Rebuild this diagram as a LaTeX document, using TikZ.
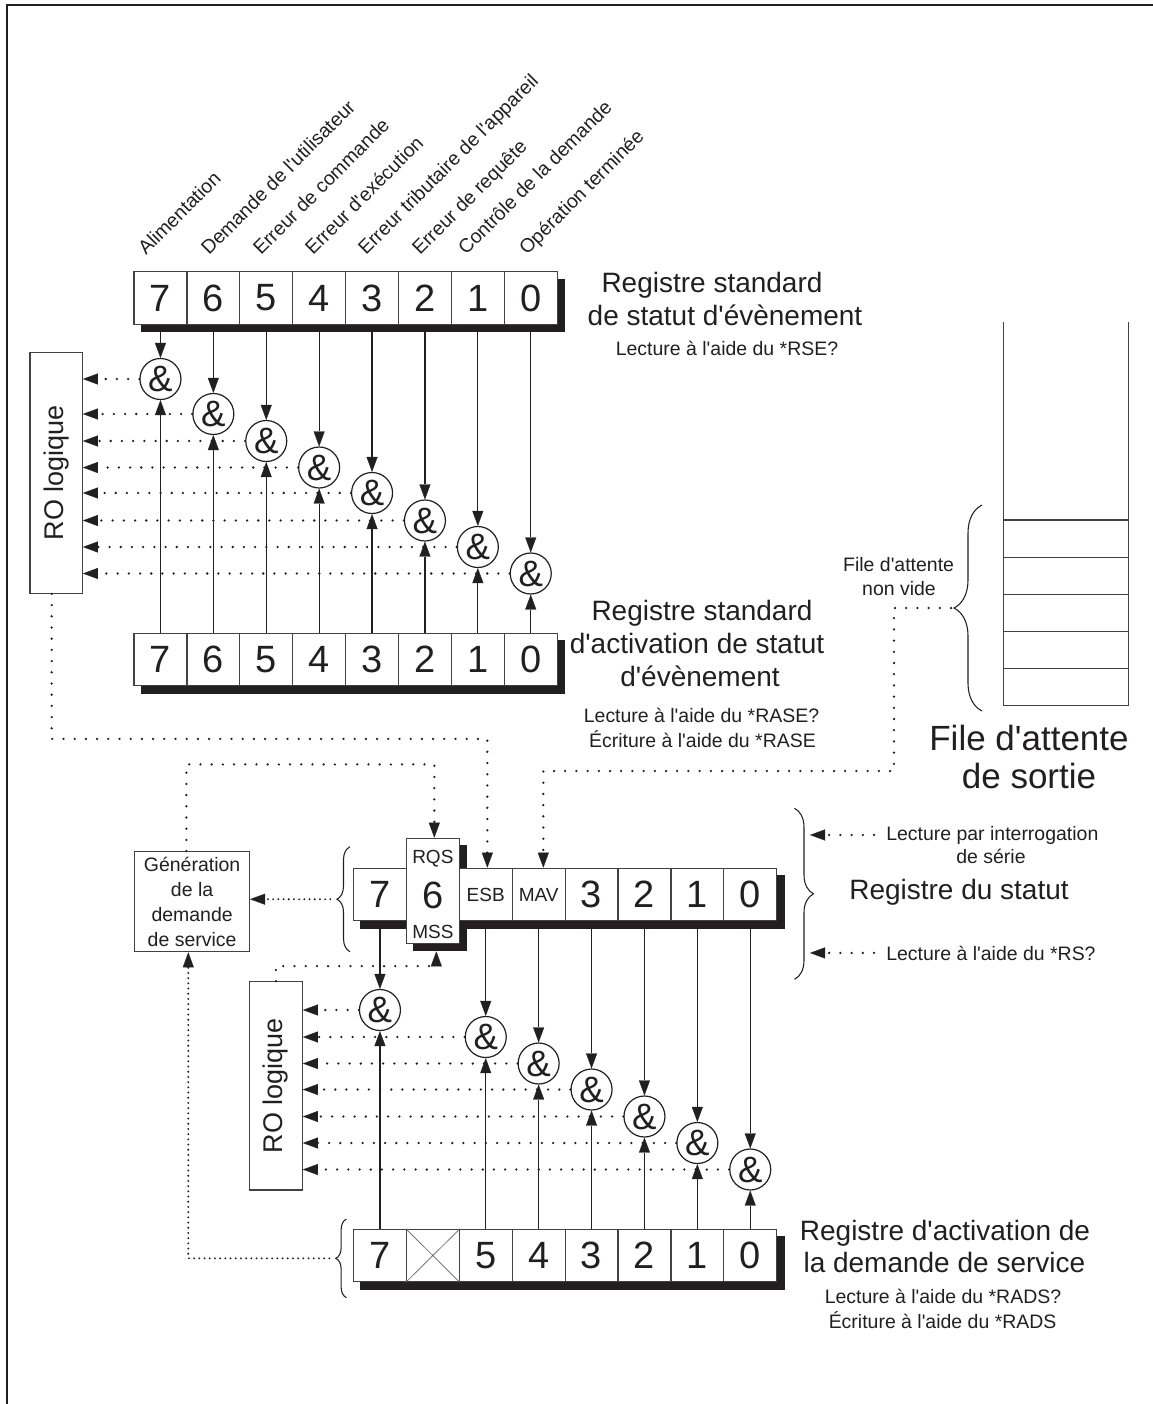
\documentclass[tikz,border=0pt]{standalone}
\usepackage{fontspec}
\setmainfont{Liberation Sans}[Ligatures=TeXOff]
\usetikzlibrary{arrows.meta,decorations.pathreplacing,calc}
\definecolor{ink}{HTML}{231F20}
\pgfdeclarelayer{shadowlayer}
\pgfsetlayers{shadowlayer,main}

% font sizes (one drawing unit = 0.75pt)
\newcommand\fBig{\fontsize{21}{24.75}\selectfont}
\newcommand\fSmall{\fontsize{14.6}{18.75}\selectfont}
\newcommand\fDigit{\fontsize{28.5}{30}\selectfont}
\newcommand\fAmp{\fontsize{27.5}{30}\selectfont}
\newcommand\fTag{\fontsize{14.25}{16}\selectfont}
\newcommand\fRO{\fontsize{20.25}{24}\selectfont}
\newcommand\fQueue{\fontsize{26.25}{28.5}\selectfont}

\tikzset{
  conn/.style={draw=ink, line width=0.95pt},
  headed/.style={-{Triangle[length=11.25pt,width=8.25pt,line width=0.2pt]}},
  sparse/.style={draw=ink, line width=1.9pt, line cap=round, dash pattern=on 0pt off 8.4pt},
  dense/.style={draw=ink, line width=1.6pt, line cap=round, dash pattern=on 0pt off 3.9pt},
  cell/.style={draw=ink!85, line width=0.9pt, fill=white, minimum width=39.675pt,
    minimum height=39.375pt, inner sep=0pt, font=\fDigit, text=ink},
  tallcell/.style={cell, minimum height=78.75pt},
  gate/.style={circle, draw=ink, line width=0.9pt, fill=white, minimum size=30.75pt,
    inner sep=0pt, font=\fAmp, text=ink},
  txt/.style={inner sep=0pt, text=ink},
  framebox/.style={draw=ink!85, line width=0.9pt, fill=white},
  bracket/.style={draw=ink, line width=0.8pt, decorate},
}

\begin{document}
\begin{tikzpicture}[x=0.75pt,y=-0.75pt]
\useasboundingbox (0,0) rectangle (1153,1404);

% page frame (top and left edges)
\draw[ink, line width=1.5pt] (6.9,1404) -- (6.9,5) -- (1153,5);

% ---------- standard event status register ----------
\foreach \b [count=\i from 0] in {7,6,5,4,3,2,1,0}
  \node[cell] (t\b) at ({134+52.9*(\i+0.5)},297.95) {\b};
% ---------- standard event status enable register ----------
\foreach \b [count=\i from 0] in {7,6,5,4,3,2,1,0}
  \node[cell] (e\b) at ({134+52.9*(\i+0.5)},659.55) {\b};

% bit labels
\foreach \x/\lab in {146/Alimentation, 209/Demande de l'utilisateur, 261/Erreur de commande,
    313/Erreur d'exécution, 366/Erreur tributaire de l'appareil, 420/Erreur de requête,
    466/Contrôle de la demande, 527/Opération terminée}
  \node[txt, font=\fSmall, rotate=45, anchor=base west] (lab\x) at (\x,256) {\lab};

% upper OR box
\node[framebox, minimum width=39.3pt, minimum height=180.75pt] (ro1) at (56.1,472.8) {};
\node[txt, font=\fRO, rotate=90] (ro1t) at (ro1.center) {RO logique};

% upper AND gates
\foreach \b/\y [count=\i from 0] in {7/379,6/414,5/441,4/467.5,3/493,2/520.5,1/547,0/573.5}
  \node[gate] (g\b) at ({134+52.9*(\i+0.5)},\y) {\&};
\foreach \b in {7,6,5,4,3,2,1,0} {
  \draw[conn,headed] (t\b.south) -- (g\b.north);
  \draw[conn,headed] (e\b.north) -- (g\b.south);
  \draw[sparse,headed] (g\b.west) -- (g\b.west -| ro1.east);
}

% texts of the upper registers
\node[txt, font=\fBig, anchor=base] (tx1) at (712,292.7) {Registre standard};
\node[txt, font=\fBig, anchor=base] (tx2) at (725,325) {de statut d'évènement};
\node[txt, font=\fSmall, anchor=base] (tx3) at (727,355) {Lecture à l'aide du *RSE?};
\node[txt, font=\fBig, anchor=base] (ta1) at (702,620) {Registre standard};
\node[txt, font=\fBig, anchor=base] (ta2) at (697,653) {d'activation de statut};
\node[txt, font=\fBig, anchor=base] (ta3) at (700,686) {d'évènement};
\node[txt, font=\fSmall, anchor=base] (ta4) at (701.5,722) {Lecture à l'aide du *RASE?};
\node[txt, font=\fSmall, anchor=base] (ta5) at (702.5,747) {Écriture à l'aide du *RASE};

% ---------- output queue ----------
\draw[draw=ink!85, line width=0.9pt] (1003.3,321.7) -- (1003.3,705.5) -- (1128.5,705.5) -- (1128.5,321.7);
\foreach \y in {520,557.1,594.2,631.3,668.4}
  \draw[draw=ink!85, line width=0.9pt] (1003.3,\y) -- (1128.5,\y);
\draw[bracket, decoration={brace, amplitude=21pt}] (982,711) -- (982,505);
\coordinate (qtip) at (951,608);
\node[txt, font=\fSmall, anchor=base] (fa1) at (898.6,571.7) {File d'attente};
\node[txt, font=\fSmall, anchor=base] (fa2) at (899,595) {non vide};
\node[txt, font=\fQueue, anchor=base] (fq1) at (1029,750) {File d'attente};
\node[txt, font=\fQueue, anchor=base] (fq2) at (1029,788) {de sortie};

% ---------- status byte register ----------
\node[cell] (s7) at ({353.5+52.9*0.5},894.55) {7};
\node[tallcell] (s6) at ({353.5+52.9*1.5},890.8) {};
\node[cell, font=\fTag] (s5) at ({353.5+52.9*2.5},894.55) {ESB};
\node[cell, font=\fTag] (s4) at ({353.5+52.9*3.5},894.55) {MAV};
\foreach \b [count=\i from 4] in {3,2,1,0}
  \node[cell] (s\b) at ({353.5+52.9*(\i+0.5)},894.55) {\b};
\node[txt, font=\fTag, anchor=base] (rqs) at (s6 |- 0,863.3) {RQS};
\node[txt, font=\fDigit, anchor=base] (six) at (s6 |- 0,908.8) {6};
\node[txt, font=\fTag, anchor=base] (mss) at (s6 |- 0,938.3) {MSS};

% braces of the status register
\draw[bracket, decoration={brace, amplitude=9.75pt}] (350,951.7) -- (350,846.7);
\coordinate (stip) at (337,899.2);
\draw[bracket, decoration={brace, amplitude=14.25pt}] (794.5,808.3) -- (794.5,979.3);
\coordinate (bq1) at (810,832.7);
\coordinate (bq2) at (810,953.3);

\node[txt, font=\fSmall, anchor=base west] (lpi) at (886,840) {Lecture par interrogation};
\node[txt, font=\fSmall, anchor=base] (lps) at (991,863.3) {de série};
\node[txt, font=\fBig, anchor=base] (rds) at (959,899.3) {Registre du statut};
\node[txt, font=\fSmall, anchor=base west] (lrs) at (886,960) {Lecture à l'aide du *RS?};
\draw[sparse,headed] ([xshift=-9pt]lpi.west) -- (lpi.west -| bq1);
\draw[sparse,headed] ([xshift=-9pt]lrs.west) -- (lrs.west -| bq2);

% service request generation
\node[framebox, minimum width=86.1pt, minimum height=75pt, align=center, font=\fSmall,
  text=ink, inner sep=0pt] (gen) at (192.1,901.7) {Génération\\de la\\demande\\de service};

% ---------- service request enable register ----------
\node[cell] (r7) at ({353.5+52.9*0.5},1255.55) {7};
\node[cell] (r6) at ({353.5+52.9*1.5},1255.55) {};
\draw[ink!70, line width=0.5pt] (r6.north west) -- (r6.south east) (r6.north east) -- (r6.south west);
\foreach \b [count=\i from 2] in {5,4,3,2,1,0}
  \node[cell] (r\b) at ({353.5+52.9*(\i+0.5)},1255.55) {\b};
\draw[bracket, decoration={brace, amplitude=7.9pt}] (346.4,1297.7) -- (346.4,1219);
\coordinate (rtip) at (336,1258.3);

\node[txt, font=\fBig, anchor=base] (rb1) at (945,1240) {Registre d'activation de};
\node[txt, font=\fBig, anchor=base] (rb2) at (944.4,1272) {la demande de service};
\node[txt, font=\fSmall, anchor=base] (rb3) at (943,1303.3) {Lecture à l'aide du *RADS?};
\node[txt, font=\fSmall, anchor=base] (rb4) at (942.6,1328.3) {Écriture à l'aide du *RADS};

% lower OR box
\node[framebox, minimum width=39.6pt, minimum height=156.2pt] (ro2) at (275.9,1085.85) {};
\node[txt, font=\fRO, rotate=90] (ro2t) at (ro2.center) {RO logique};

% lower AND gates
\foreach \b/\i/\y in {7/0/1010,5/2/1037,4/3/1063.5,3/4/1089.5,2/5/1116.5,1/6/1143,0/7/1169.5} {
  \node[gate] (h\b) at ({353.5+52.9*(\i+0.5)},\y) {\&};
  \draw[conn,headed] (s\b.south) -- (h\b.north);
  \draw[conn,headed] (r\b.north) -- (h\b.south);
  \draw[sparse,headed] (h\b.west) -- (h\b.west -| ro2.east);
}

% ---------- dotted summary links ----------
\draw[sparse,headed] ([xshift=-3.3pt]ro1.south) -- ++(0,145) -| ([xshift=1.2pt]s5.north);
\draw[sparse,headed] ([xshift=-4.3pt]gen.north) -- ++(0,-86.7) -| ([xshift=1.1pt]s6.north);
\draw[sparse,headed] (qtip) -- ++(-57,0) -- ++(0,163) -| ([xshift=3.5pt]s4.north);
\draw[sparse,headed] (ro2.north) -- ++(0,-15) -| ([xshift=2.6pt,yshift=-5.6pt]s6.south);
\draw[dense,headed] ([xshift=-5pt]stip) -- (stip -| gen.east);
\draw[dense,headed] ([xshift=-5pt]rtip) -| ([xshift=-2.85pt]gen.south);

% ---------- drop shadows ----------
\begin{pgfonlayer}{shadowlayer}
  \fill[ink] ($(t7.north west)+(7.5,7.5)$) rectangle ($(t0.south east)+(7.5,7.5)$);
  \fill[ink] ($(e7.north west)+(7.5,7.5)$) rectangle ($(e0.south east)+(7.5,7.5)$);
  \fill[ink] ($(s7.north west)+(7.5,7.5)$) rectangle ($(s0.south east)+(7.5,7.5)$);
  \fill[ink] ($(s6.north west)+(7.5,7.5)$) rectangle ($(s6.south east)+(7.5,7.5)$);
  \fill[ink] ($(r7.north west)+(7.5,7.5)$) rectangle ($(r0.south east)+(7.5,7.5)$);
\end{pgfonlayer}
\end{tikzpicture}
\end{document}
